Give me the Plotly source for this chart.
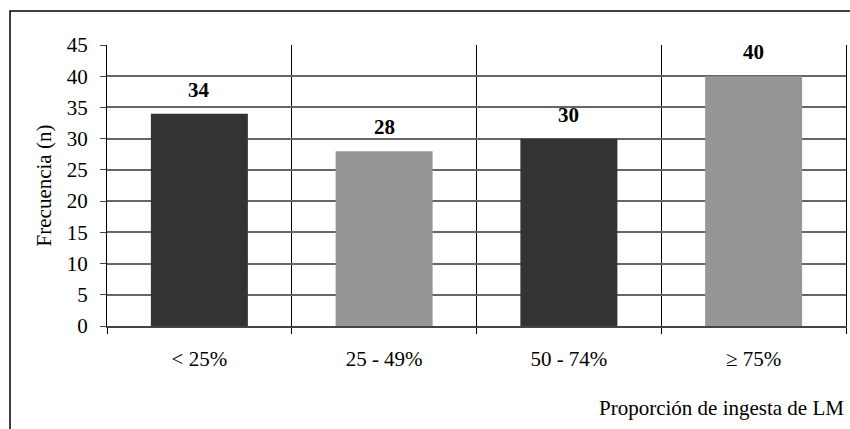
import plotly.graph_objects as go

categories = ["< 25%", "25 - 49%", "50 - 74%", "\u2265 75%"]
values = [34, 28, 30, 40]
bar_colors = ["#333333", "#969696", "#333333", "#969696"]
y_ticks = [0, 5, 10, 15, 20, 25, 30, 35, 40, 45]

FONT = "Liberation Serif"
FS = 21

fig = go.Figure()
fig.add_trace(go.Bar(
    x=categories, y=values, marker=dict(color=bar_colors, line=dict(width=0)),
    width=0.525, hoverinfo="skip",
))

for c, v in zip(categories, values):
    fig.add_annotation(x=c, y=v, text="<b>%d</b>" % v, showarrow=False,
                       yanchor="bottom", yshift=10,
                       font=dict(family=FONT, size=FS, color="black"))

# Outer frame (chart area border)
L, T, W, H = 107, 45, 739, 281
def px(x):
    return (x - L) / W
def py(y):
    return (T + H - y) / H
fig.add_shape(type="rect", xref="paper", yref="paper",
              x0=px(10), x1=px(880), y0=py(460), y1=py(11),
              line=dict(color="black", width=1.5), fillcolor="rgba(0,0,0,0)",
              layer="below")

fig.add_annotation(xref="paper", yref="paper", x=px(846), y=py(408),
                   xanchor="right", yanchor="middle", showarrow=False,
                   text="Proporción de ingesta de LM",
                   font=dict(family=FONT, size=FS, color="black"))

fig.update_layout(
    width=850, height=429,
    margin=dict(l=L, r=850 - L - W, t=T, b=429 - T - H),
    paper_bgcolor="white", plot_bgcolor="white",
    showlegend=False,
    bargap=0.475,
    font=dict(family=FONT, size=FS, color="black"),
    xaxis=dict(
        type="category", tickson="boundaries",
        showgrid=True, gridcolor="black", gridwidth=1,
        ticks="outside", ticklen=6, tickcolor="black", tickwidth=1,
        showline=True, linecolor="#444444", linewidth=2,
        tickfont=dict(family=FONT, size=FS, color="black"),
        ticklabelstandoff=13,
        range=[-0.5, 3.5], fixedrange=True,
    ),
    yaxis=dict(
        range=[0, 45], tickvals=y_ticks,
        showgrid=True, gridcolor="#666666", gridwidth=1.5,
        ticks="outside", ticklen=6, tickcolor="#444444",
        showline=True, linecolor="black", linewidth=1, mirror=True,
        zeroline=False,
        tickfont=dict(family=FONT, size=FS, color="black"),
        ticklabelstandoff=8,
        title=dict(text="Frecuencia (n)", standoff=9,
                   font=dict(family=FONT, size=FS, color="black")),
    ),
)

fig.write_html("out.html")
